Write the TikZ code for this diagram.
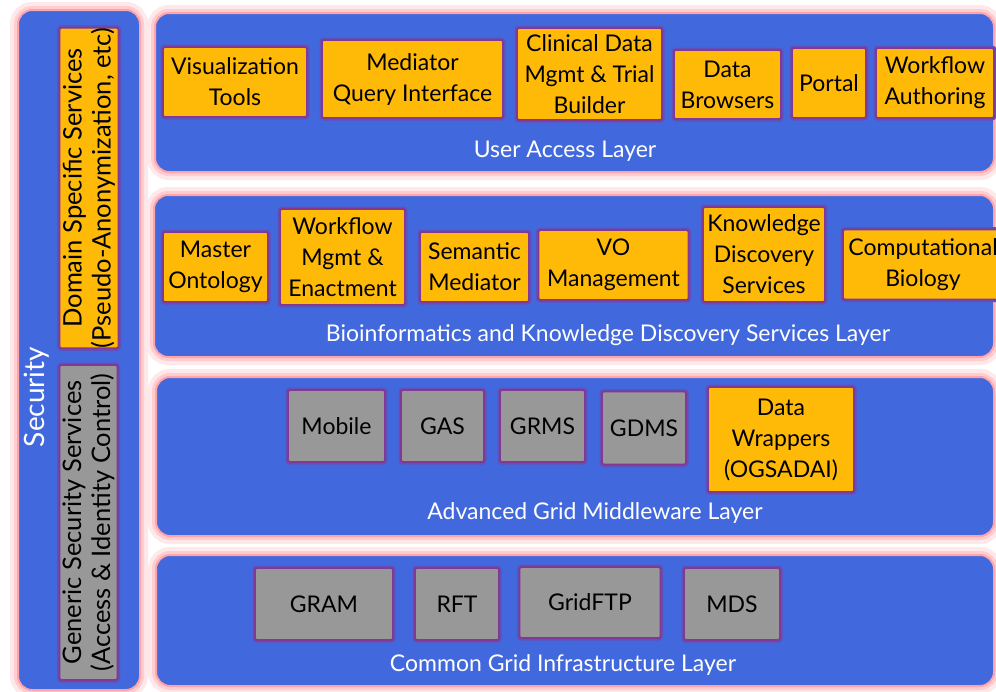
\documentclass[tikz,border=0pt]{standalone}
\usepackage{fontspec}
\setmainfont{Lato}
\definecolor{layerblue}{RGB}{66,104,222}
\definecolor{boxorange}{RGB}{255,186,8}
\definecolor{boxgray}{RGB}{152,152,152}
\definecolor{edgepurple}{RGB}{128,58,150}
\definecolor{glowpink}{RGB}{255,165,170}

\begin{document}
\begin{tikzpicture}[x=1pt,y=-1pt,
  layer/.style={fill=layerblue, draw=glowpink, line width=2pt, rounded corners=14pt,
    preaction={draw=glowpink!25, line width=16pt},
    preaction={draw=glowpink!55, line width=8pt}},
  srv/.style={draw=edgepurple, line width=1.8pt, rounded corners=2pt, align=center,
    inner sep=0pt, font=\fontsize{23}{31}\selectfont,
    preaction={draw=edgepurple!55!layerblue, line width=5pt}},
  osrv/.style={srv, fill=boxorange},
  gsrv/.style={srv, fill=boxgray},
  laylabel/.style={text=white, font=\fontsize{23}{28}\selectfont}]
\useasboundingbox (0,0) rectangle (996,691);
\fill[white] (0,0) rectangle (996,691);
\clip (0,0) rectangle (996,691);

\draw[layer] (18,10) rectangle (140,690);
\draw[layer] (155,13) rectangle (994,172);
\draw[layer] (154,195) rectangle (994,357);
\draw[layer] (156,377) rectangle (994,536);
\draw[layer] (156,555) rectangle (994,686);

\node[osrv, rotate=90, minimum width=314pt, minimum height=59pt,
  font=\fontsize{25.5}{29}\selectfont] (dss) at (89,188)
  {Domain Specific Services\\(Pseudo-Anonymization, etc)};
\node[gsrv, rotate=90, minimum width=315pt, minimum height=58pt,
  font=\fontsize{25.5}{29}\selectfont] (gss) at (88.5,522.5)
  {Generic Security Services\\(Access \& Identity Control)};
\node[laylabel, rotate=90, font=\fontsize{28}{30}\selectfont] (seclbl) at (37,397) {Security};

\node[osrv, minimum width=144pt, minimum height=70pt] (vis) at (235,82) {Visualization\\Tools};
\node[osrv, minimum width=181pt, minimum height=78pt] (mqi) at (412.5,79) {Mediator\\Query Interface};
\node[osrv, minimum width=145pt, minimum height=92pt] (cdm) at (589.5,74) {Clinical Data\\Mgmt \& Trial\\Builder};
\node[osrv, minimum width=107pt, minimum height=69pt] (dbr) at (727.5,84.5) {Data\\Browsers};
\node[osrv, minimum width=74pt, minimum height=70pt] (portal) at (829,83) {Portal};
\node[osrv, minimum width=118pt, minimum height=70pt] (wfa) at (935,83) {Workflow\\Authoring};
\node[laylabel] (ualbl) at (565,151) {User Access Layer};

\node[osrv, minimum width=105pt, minimum height=70pt] (mont) at (215.5,267) {Master\\Ontology};
\node[osrv, minimum width=125pt, minimum height=96pt] (wfm) at (342.5,257) {Workflow\\Mgmt \&\\Enactment};
\node[osrv, minimum width=109pt, minimum height=70pt] (smed) at (474.5,267) {Semantic\\Mediator};
\node[osrv, minimum width=150pt, minimum height=70pt] (vom) at (613.5,265) {VO\\Management};
\node[osrv, minimum width=122pt, minimum height=95pt] (kds) at (764,254.5) {Knowledge\\Discovery\\Services};
\node[osrv, minimum width=160pt, minimum height=70pt] (cbio) at (923,264.5) {Computational\\Biology};
\node[laylabel] (biolbl) at (608,335) {Bioinformatics and Knowledge Discovery Services Layer};

\node[gsrv, minimum width=97pt, minimum height=72pt] (mob) at (336.5,426) {Mobile};
\node[gsrv, minimum width=83pt, minimum height=72pt] (gas) at (442.5,426) {GAS};
\node[gsrv, minimum width=85pt, minimum height=72pt] (grms) at (542.5,426) {GRMS};
\node[gsrv, minimum width=84pt, minimum height=73pt] (gdms) at (644,428) {GDMS};
\node[osrv, minimum width=146pt, minimum height=105pt] (dwr) at (781,439.5) {Data\\Wrappers\\(OGSADAI)};
\node[laylabel] (agmlbl) at (595,513) {Advanced Grid Middleware Layer};

\node[gsrv, minimum width=138pt, minimum height=72pt] (gram) at (324,604) {GRAM};
\node[gsrv, minimum width=84pt, minimum height=72pt] (rft) at (457,604) {RFT};
\node[gsrv, minimum width=141pt, minimum height=71pt] (gftp) at (590,602.5) {GridFTP};
\node[gsrv, minimum width=96pt, minimum height=72pt] (mds) at (732,604) {MDS};
\node[laylabel] (cgilbl) at (563,665) {Common Grid Infrastructure Layer};
\end{tikzpicture}
\end{document}
